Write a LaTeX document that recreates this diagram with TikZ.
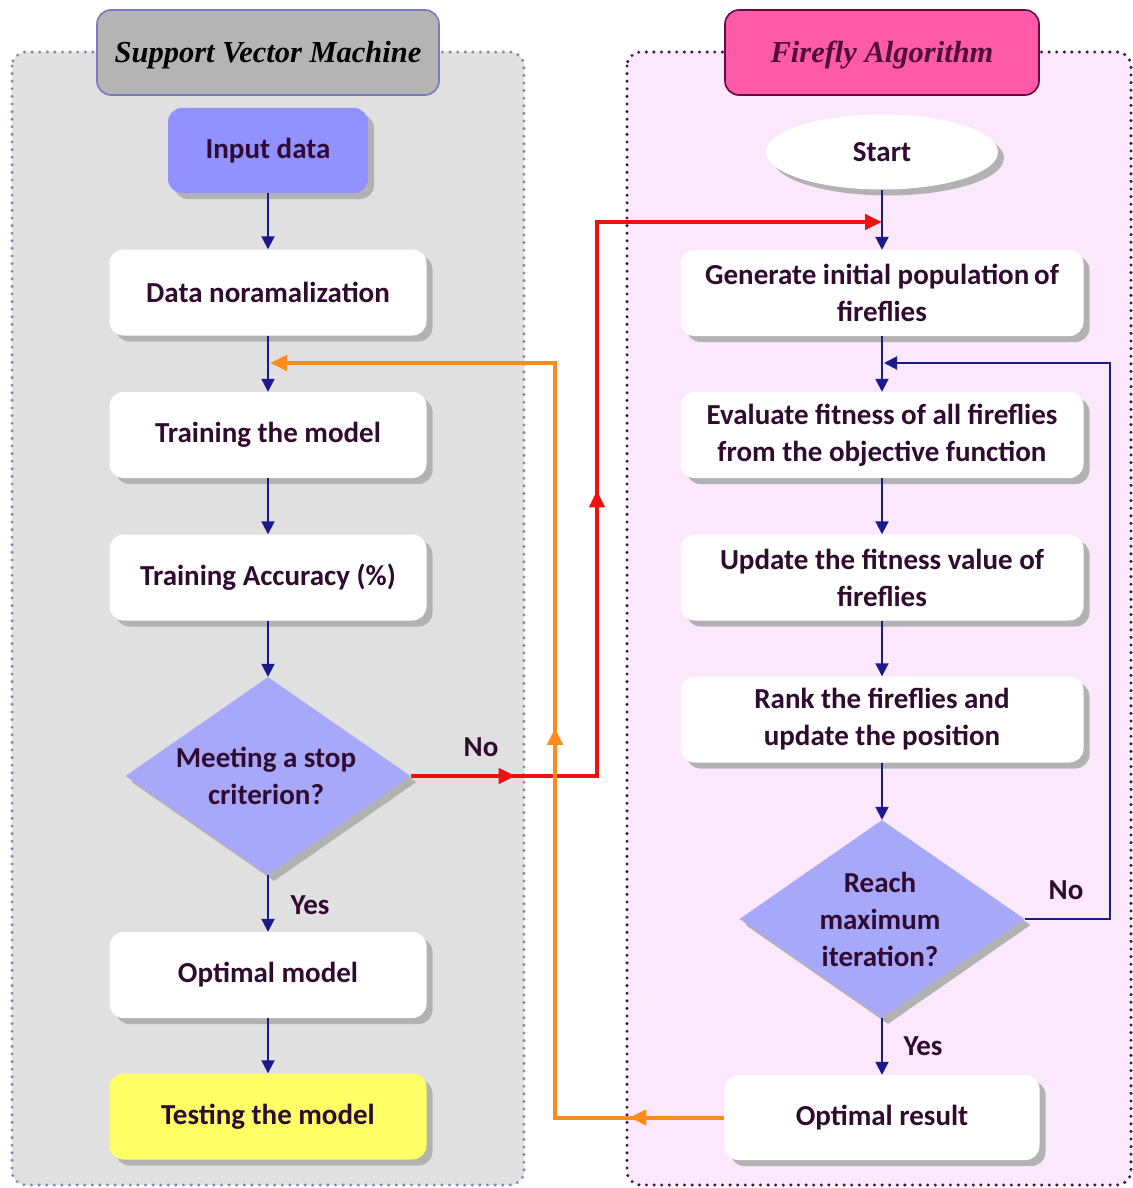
\documentclass[tikz,border=0pt]{standalone}
\usepackage{fontspec}
\setmainfont{Carlito}
\newfontfamily\titlefont{Liberation Serif}
\usetikzlibrary{shapes.geometric,shadows,arrows.meta,decorations.markings}
\definecolor{svmbg}{RGB}{224,224,224}
\definecolor{svmdot}{RGB}{136,136,180}
\definecolor{svmtitlebg}{RGB}{180,180,180}
\definecolor{svmtitleln}{RGB}{120,120,190}
\definecolor{fabg}{RGB}{252,232,252}
\definecolor{fadot}{RGB}{74,16,74}
\definecolor{fatitlebg}{RGB}{255,90,168}
\definecolor{fatitleln}{RGB}{100,10,70}
\definecolor{fatitletxt}{RGB}{80,12,60}
\definecolor{inputblue}{RGB}{145,145,255}
\definecolor{decblue}{RGB}{168,168,250}
\definecolor{testyellow}{RGB}{255,255,102}
\definecolor{txtcol}{RGB}{48,10,48}
\definecolor{navy}{RGB}{26,26,138}
\definecolor{redln}{RGB}{238,17,17}
\definecolor{orangeln}{RGB}{255,140,26}
\definecolor{shadowgray}{RGB}{178,178,178}
\begin{document}
\begin{tikzpicture}[x=1pt,y=-1pt,
  shadowed/.style={drop shadow={shadow xshift=6pt,shadow yshift=-6pt,fill=shadowgray,opacity=1}},
  procbox/.style={rectangle,rounded corners=14pt,minimum width=317pt,minimum height=86pt,
    fill=white,shadowed,text=txtcol,font=\fontsize{29}{37}\selectfont\bfseries,align=center,inner sep=0pt},
  widebox/.style={procbox,minimum width=403pt},
  decision/.style={diamond,minimum width=285pt,minimum height=198pt,fill=decblue,shadowed,inner sep=0pt},
  dectext/.style={text=txtcol,font=\fontsize{29}{37}\selectfont\bfseries,align=center,inner sep=0pt},
  lbl/.style={text=txtcol,font=\fontsize{29}{34}\selectfont\bfseries,inner sep=0pt},
  titlebox/.style={rectangle,rounded corners=14pt,minimum height=85pt,line width=1.6pt,
    text height=27pt,text depth=6pt,
    font=\titlefont\bfseries\itshape\fontsize{30.5}{36}\selectfont,inner sep=0pt},
  flow/.style={draw=navy,line width=2pt,-{Triangle[length=13pt,width=13pt]}},
  dotframe/.style={rounded corners=14pt,line width=3.4pt,dash pattern=on 0pt off 7.6pt,line cap=round},
  midarrow/.style={postaction={decorate,decoration={markings,
    mark=at position #1 with {\arrow{Triangle[length=17pt,width=15pt]}}}}}
]
\useasboundingbox (0,0) rectangle (1132,1188);

% containers
\filldraw[dotframe,fill=svmbg,draw=svmdot] (12,52) rectangle (524,1185);
\filldraw[dotframe,fill=fabg,draw=fadot] (627,52) rectangle (1131,1185);

% titles
\node[titlebox,minimum width=342pt,fill=svmtitlebg,draw=svmtitleln,text=black] (svmt) at (268,52.5) {Support Vector Machine};
\node[titlebox,minimum width=314pt,fill=fatitlebg,draw=fatitleln,text=fatitletxt] (fat) at (882,52.5) {Firefly Algorithm};

% SVM column
\node[procbox,minimum width=200pt,minimum height=85pt,fill=inputblue] (inp) at (268,150.5) {Input data};
\node[procbox] (dn) at (268,292.5) {Data noramalization};
\node[procbox] (tm) at (268,435) {Training the model};
\node[procbox] (ta) at (268,577.5) {Training Accuracy (\%)};
\node[decision] (d1) at (268,776) {};
\node[dectext] (d1t) at (266,776) {Meeting a stop\\criterion?};
\node[procbox] (om) at (268,975) {Optimal model};
\node[procbox,fill=testyellow] (tst) at (268,1116.5) {Testing the model};

% FA column
\node[ellipse,minimum width=232pt,minimum height=75pt,fill=white,shadowed,text=txtcol,
  font=\fontsize{29}{34}\selectfont\bfseries,inner sep=0pt] (st) at (882,152) {Start};
\node[widebox] (gen) at (882,293) {Generate initial population\,of\\fireflies};
\node[widebox] (ev) at (882,435) {Evaluate fitness of all fireflies\\from the objective function};
\node[widebox] (up) at (882,577.5) {Update the fitness value of\\fireflies};
\node[widebox] (rk) at (882,719.5) {Rank the fireflies and\\update the position};
\node[decision] (d2) at (882,919) {};
\node[dectext] (d2t) at (880,919) {Reach\\maximum\\iteration?};
\node[procbox,minimum width=315pt,minimum height=85pt] (opt) at (882,1117.5) {Optimal result};

% SVM flow
\draw[flow] (inp.south) -- (dn.north);
\draw[flow] (dn.south) -- (tm.north);
\draw[flow] (tm.south) -- (ta.north);
\draw[flow] (ta.south) -- (d1.north);
\draw[flow] (d1.south) -- (om.north);
\draw[flow] (om.south) -- (tst.north);
\node[lbl] (yes1) at (310,905) {Yes};

% FA flow
\draw[flow] (st.south) -- (gen.north);
\draw[flow] (gen.south) -- (ev.north);
\draw[flow] (ev.south) -- (up.north);
\draw[flow] (up.south) -- (rk.north);
\draw[flow] (rk.south) -- (d2.north);
\draw[flow] (d2.south) -- (opt.north);
\node[lbl] (yes2) at (923,1046) {Yes};

% loop No
\coordinate (loopTop) at (1110,363);
\coordinate (loopEnd) at (884,363);
\draw[flow] (d2.east) -| (loopTop) -- (loopEnd);
\node[lbl] (no2) at (1066,890) {No};

% red No path
\coordinate (redTop) at (597,222);
\coordinate (redEnd) at (882,222);
\draw[draw=redln,line width=4pt,-{Triangle[length=17pt,width=15pt]},
  midarrow=105pt,postaction={decorate,decoration={markings,mark=at position 472pt with {\arrow{Triangle[length=17pt,width=15pt]}}}},color=redln]
  (d1.east) -| (redTop) -- (redEnd);
\node[lbl] (no1) at (481,747) {No};

% orange path
\coordinate (orTop) at (555,363);
\coordinate (orEnd) at (270,363);
\draw[draw=orangeln,line width=4pt,-{Triangle[length=17pt,width=15pt]},
  midarrow=95pt,postaction={decorate,decoration={markings,mark=at position 559pt with {\arrow{Triangle[length=17pt,width=15pt]}}}},color=orangeln]
  (opt.west) -| (orTop) -- (orEnd);
\end{tikzpicture}
\end{document}
